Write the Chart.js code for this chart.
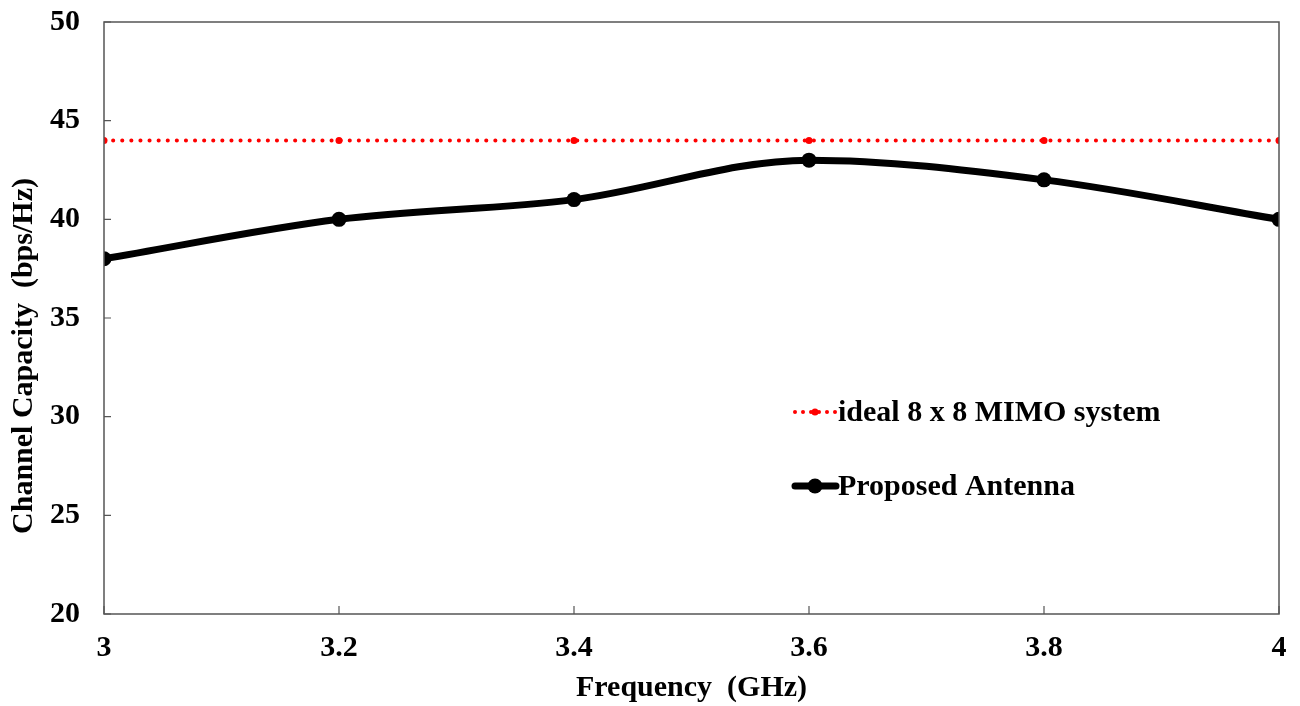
<!DOCTYPE html>
<html><head><meta charset="utf-8">
<script src="https://cdn.jsdelivr.net/npm/chart.js@4.4.1/dist/chart.umd.min.js"></script>
<style>html,body{margin:0;padding:0;background:#fff}#wrap{width:1300px;height:706px;position:relative}</style>
</head><body><div id="wrap"><canvas id="c" width="1300" height="706"></canvas></div>
<script>
const frequencies = [3, 3.2, 3.4, 3.6, 3.8, 4];
const idealCapacity = [44, 44, 44, 44, 44, 44];
const proposedCapacity = [38, 40, 41, 43, 42, 40];
const xTickValues = [3, 3.2, 3.4, 3.6, 3.8, 4];
const yTickValues = [20, 25, 30, 35, 40, 45, 50];
const seriesLabels = ['ideal 8 x 8 MIMO system', 'Proposed Antenna'];
const yAxisTitle = 'Channel Capacity  (bps/Hz)';
const xAxisTitle = 'Frequency  (GHz)';

const FONT = '"Liberation Serif", "Times New Roman", serif';
const AXIS_COLOR = '#555';

const framePlugin = {
  id: 'frame',
  afterDraw(chart) {
    const {ctx, chartArea: a, scales} = chart;
    ctx.save();
    ctx.strokeStyle = AXIS_COLOR;
    ctx.lineWidth = 1.5;
    ctx.strokeRect(a.left, a.top, a.right - a.left, a.bottom - a.top);
    ctx.lineWidth = 1.2;
    ctx.beginPath();
    yTickValues.forEach(v => {
      const y = scales.y.getPixelForValue(v);
      ctx.moveTo(a.left, y); ctx.lineTo(a.left + 7, y);
    });
    xTickValues.forEach(v => {
      const x = scales.x.getPixelForValue(v);
      ctx.moveTo(x, a.bottom); ctx.lineTo(x, a.bottom - 8);
    });
    ctx.stroke();
    // y axis title
    ctx.font = 'bold 30px ' + FONT;
    ctx.fillStyle = '#000';
    ctx.textAlign = 'center';
    ctx.textBaseline = 'middle';
    ctx.save();
    ctx.translate(24, 356);
    ctx.rotate(-Math.PI / 2);
    ctx.fillText(yAxisTitle, 0, 0);
    ctx.restore();
    // legend
    const lx0 = 795, lx1 = 836, tx = 838;
    const rows = [412, 486];
    ctx.textAlign = 'left';
    ctx.fillStyle = '#ff0000';
    for (let x = lx0; x <= lx1; x += 8) {
      ctx.beginPath(); ctx.arc(x, rows[0], 2, 0, Math.PI * 2); ctx.fill();
    }
    ctx.beginPath(); ctx.arc(815, rows[0], 3.5, 0, Math.PI * 2); ctx.fill();
    ctx.fillStyle = '#000';
    ctx.fillText(seriesLabels[0], tx, rows[0] + 1);
    ctx.strokeStyle = '#000';
    ctx.lineWidth = 7;
    ctx.lineCap = 'round';
    ctx.beginPath(); ctx.moveTo(lx0, rows[1]); ctx.lineTo(lx1, rows[1]); ctx.stroke();
    ctx.beginPath(); ctx.arc(815, rows[1], 7.5, 0, Math.PI * 2); ctx.fill();
    ctx.fillText(seriesLabels[1], tx, rows[1] + 1);
    ctx.restore();
  }
};

new Chart(document.getElementById('c'), {
  type: 'line',
  data: {
    datasets: [
      {
        label: seriesLabels[0],
        data: frequencies.map((f, i) => ({x: f, y: idealCapacity[i]})),
        borderColor: '#ff0000',
        backgroundColor: '#ff0000',
        borderWidth: 4,
        borderDash: [0.1, 9],
        borderCapStyle: 'round',
        pointRadius: 3.5,
        pointBorderWidth: 0,
        tension: 0,
        order: 2
      },
      {
        label: seriesLabels[1],
        data: frequencies.map((f, i) => ({x: f, y: proposedCapacity[i]})),
        borderColor: '#000',
        backgroundColor: '#000',
        borderWidth: 7,
        pointRadius: 7.5,
        pointBorderWidth: 0,
        cubicInterpolationMode: 'monotone',
        order: 1
      }
    ]
  },
  options: {
    responsive: false,
    animation: false,
    layout: {padding: {top: 22, right: 21, left: 0, bottom: 0}},
    plugins: {legend: {display: false}, tooltip: {enabled: false}},
    scales: {
      x: {
        type: 'linear', min: 3, max: 4,
        afterBuildTicks: s => { s.ticks = xTickValues.map(v => ({value: v})); },
        afterFit: s => { s.height = 92; s.paddingLeft = 0; s.paddingRight = 0; },
        grid: {display: false, drawTicks: false},
        border: {display: false},
        ticks: {
          color: '#000', padding: 16,
          font: {family: FONT, size: 30, weight: 'bold'},
          callback: v => String(v)
        },
        title: {
          display: true, text: xAxisTitle, color: '#000',
          font: {family: FONT, size: 30, weight: 'bold'},
          padding: {top: 5, bottom: 0}
        }
      },
      y: {
        type: 'linear', min: 20, max: 50,
        afterBuildTicks: s => { s.ticks = yTickValues.map(v => ({value: v})); },
        afterFit: s => { s.width = 104; s.paddingTop = 0; s.paddingBottom = 0; },
        grid: {display: false, drawTicks: false},
        border: {display: false},
        ticks: {
          color: '#000', padding: 24,
          font: {family: FONT, size: 30, weight: 'bold'},
          callback: v => String(v)
        },
        title: {display: false}
      }
    }
  },
  plugins: [framePlugin]
});
</script></body></html>
